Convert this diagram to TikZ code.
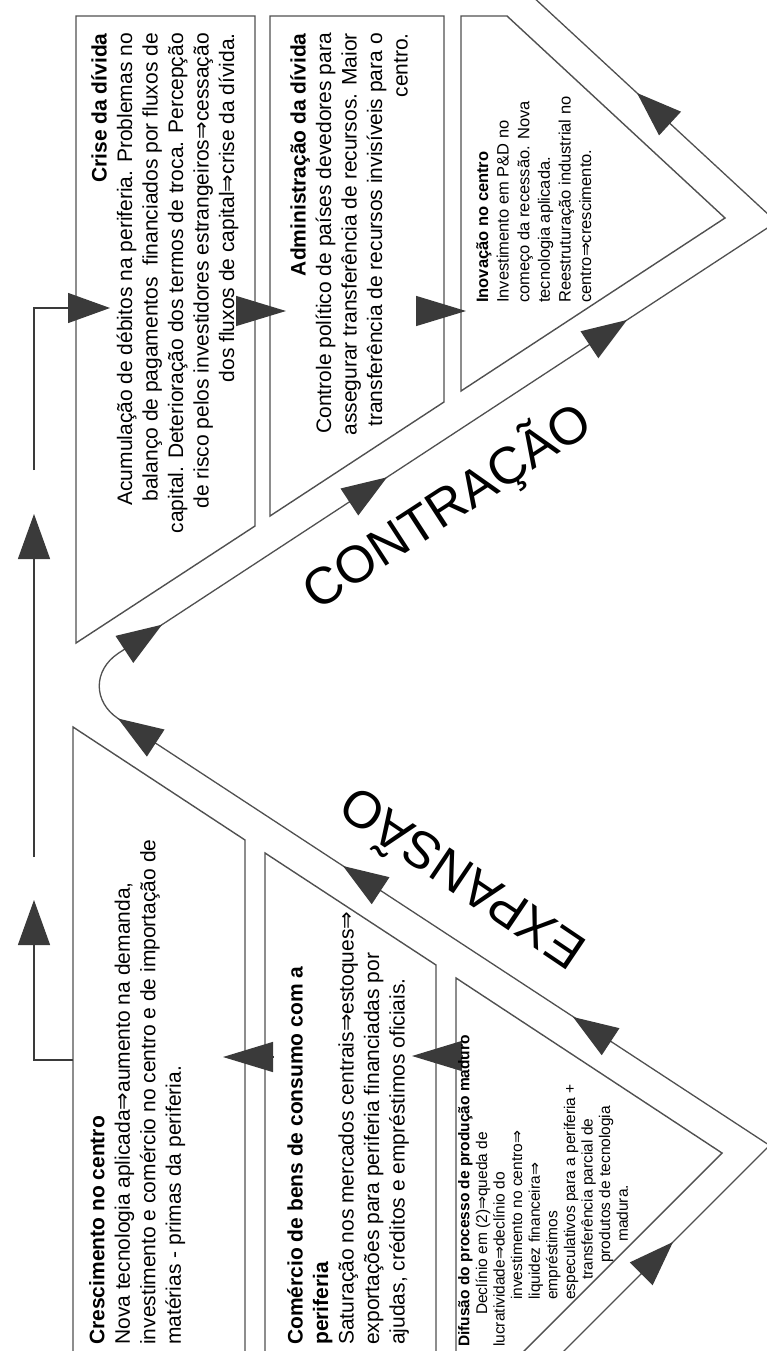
\documentclass[tikz,border=0pt]{standalone}
\usepackage{fontspec}
\setmainfont{Liberation Sans}
\newfontfamily\dejavu{DejaVu Sans}
\usetikzlibrary{arrows.meta}
\newcommand\myarr{{\dejavu ⇒}}
\definecolor{linegray}{RGB}{80,80,80}
\definecolor{arrowgray}{RGB}{58,58,58}
\begin{document}
\begin{tikzpicture}[x=1pt,y=-1pt,
  trackline/.style={draw=linegray,line width=1.3pt,line join=miter},
  boxline/.style={draw=linegray,line width=1.4pt},
  lanetip/.style={draw=arrowgray,line width=1.3pt,-{Triangle[length=45pt,width=32pt,fill=arrowgray]}},
  gaptip/.style={draw=arrowgray,line width=1.3pt,-{Triangle[length=50pt,width=30pt,fill=arrowgray]}},
  boxtext/.style={inner sep=0pt,rotate=90,font=\fontsize{21}{25.5}\selectfont},
  smalltext/.style={inner sep=0pt,rotate=90},
  bigword/.style={inner sep=0pt,font=\fontsize{52}{60}\selectfont}]
\useasboundingbox (0,0) rectangle (767,1351);
\fill[white] (0,0) rectangle (767,1351);
\clip (0,0) rectangle (767,1351);

% ---- boxes (outlines)
\draw[boxline] (76,16) -- (255,16) -- (255,526) -- (76,643) -- cycle;
\draw[boxline] (270,16) -- (444,16) -- (444,402) -- (270,516) -- cycle;
\draw[boxline] (461,16) -- (507,16) -- (725,218) -- (461,391) -- cycle;
\draw[boxline] (73,1360) -- (73,727) -- (245,840) -- (245,1360);
\draw[boxline] (265,1360) -- (265,853) -- (436,965) -- (436,1360);
\draw[boxline] (456,1420) -- (456,978) -- (722,1153) -- (455,1420);

% ---- track (outer line of the two lanes)
\coordinate (tb) at (555,1360);
\coordinate (ab) at (769.6,1145.4);
\coordinate (ul) at (118,718.5);
\coordinate (ur) at (118,653.5);
\coordinate (at) at (776.5,222);
\coordinate (te) at (531,-5);
\draw[trackline] (tb) -- (ab) -- (ul) .. controls (93,701.6) and (93,670.4) .. (ur) -- (at) -- (te);

% ---- arrowheads on the lanes
\coordinate (a1s) at (641,1274);   \coordinate (a1e) at (673,1242);
\coordinate (a2s) at (610.6,1041.7); \coordinate (a2e) at (573,1017);
\coordinate (a3s) at (380.6,890.7);  \coordinate (a3e) at (343,866);
\coordinate (a4s) at (155.6,743);    \coordinate (a4e) at (118,718.5);
\coordinate (a5s) at (124.4,649.4);  \coordinate (a5e) at (162,624.7);
\coordinate (a6s) at (349.4,502);    \coordinate (a6e) at (387,477.3);
\coordinate (a7s) at (589.4,344.8);  \coordinate (a7e) at (627,320);
\coordinate (a8s) at (670,123.5);    \coordinate (a8e) at (637,93);
\foreach \i in {1,...,8} {\draw[lanetip] (a\i s) -- (a\i e);}

% ---- left connector
\coordinate (c0) at (73,1060);
\coordinate (c1) at (34,1060);
\coordinate (c2) at (34,900);
\coordinate (c3) at (34,857);
\coordinate (c4) at (34,514);
\coordinate (c5) at (34,470);
\coordinate (c6) at (34,308);
\coordinate (c7) at (110,308);
\draw[lanetip] (c0) -- (c1) -- (c2);
\draw[lanetip] (c3) -- (c4);
\draw[lanetip,-{Triangle[length=42pt,width=30pt,fill=arrowgray]}] (c5) -- (c6) -- (c7);

% ---- arrows between boxes
\coordinate (g1s) at (236,311);  \coordinate (g1e) at (286,311);
\coordinate (g2s) at (416,311);  \coordinate (g2e) at (466,311);
\coordinate (g3s) at (273,1057); \coordinate (g3e) at (223,1057);
\coordinate (g4s) at (462,1056); \coordinate (g4e) at (412,1056);
\foreach \i in {1,...,4} {\draw[gaptip] (g\i s) -- (g\i e);}

% ---- texts
\node[boxtext,anchor=north east,align=right] (crise) at (91,33) {\textbf{Crise da dívida}\\Acumulação de débitos na periferia. Problemas no\\balanço de pagamentos\ \ financiados por fluxos de\\capital. Deterioração dos termos de troca. Percepção\\de risco pelos investidores estrangeiros\myarr cessação\\dos fluxos de capital\myarr crise da dívida.};

\node[boxtext,anchor=north east,align=right] (adm) at (290,33) {\textbf{Administração da dívida}\\Controle político de países devedores para\\assegurar transferência de recursos. Maior\\transferência de recursos invisíveis para o\\centro.};

\node[smalltext,font=\fontsize{16.5}{20.6}\selectfont,anchor=north west,align=left] (inov) at (476,303) {\textbf{Inovação no centro}\\Investimento em P\&D no\\começo da recessão. Nova\\tecnologia aplicada.\\Reestruturação industrial no\\centro\myarr crescimento.};

\node[boxtext,anchor=north west,align=left] (cresc) at (89,1345) {\textbf{Crescimento no centro}\\Nova tecnologia aplicada\myarr aumento na demanda,\\investimento e comércio no centro e de importação de\\matérias - primas da periferia.};

\node[boxtext,anchor=north west,align=left] (com) at (287,1345) {\textbf{Comércio de bens de consumo com a}\\\textbf{periferia}\\Saturação nos mercados centrais\myarr estoques\myarr\\exportações para periferia financiadas por\\ajudas, créditos e empréstimos oficiais.};

\node[smalltext,font=\fontsize{15.5}{17.6}\selectfont,anchor=north west,align=left] (dif) at (458,1347) {\textbf{Difusão do processo de produção maduro}\\\hspace*{32pt}Declínio em (2)\myarr queda de\\lucratividade\myarr declínio do\\\hspace*{47pt}investimento no centro\myarr\\\hspace*{47pt}liquidez financeira\myarr\\\hspace*{47pt}empréstimos\\\hspace*{47pt}especulativos para a periferia +\\\hspace*{67pt}transferência parcial de\\\hspace*{84pt}produtos de tecnologia\\\hspace*{105pt}madura.};

\node[bigword,rotate=33] (contr) at (447,506) {CONTRAÇÃO};
\node[bigword,rotate=146] (expa) at (460,882) {EXPANSÃO};
\end{tikzpicture}
\end{document}
